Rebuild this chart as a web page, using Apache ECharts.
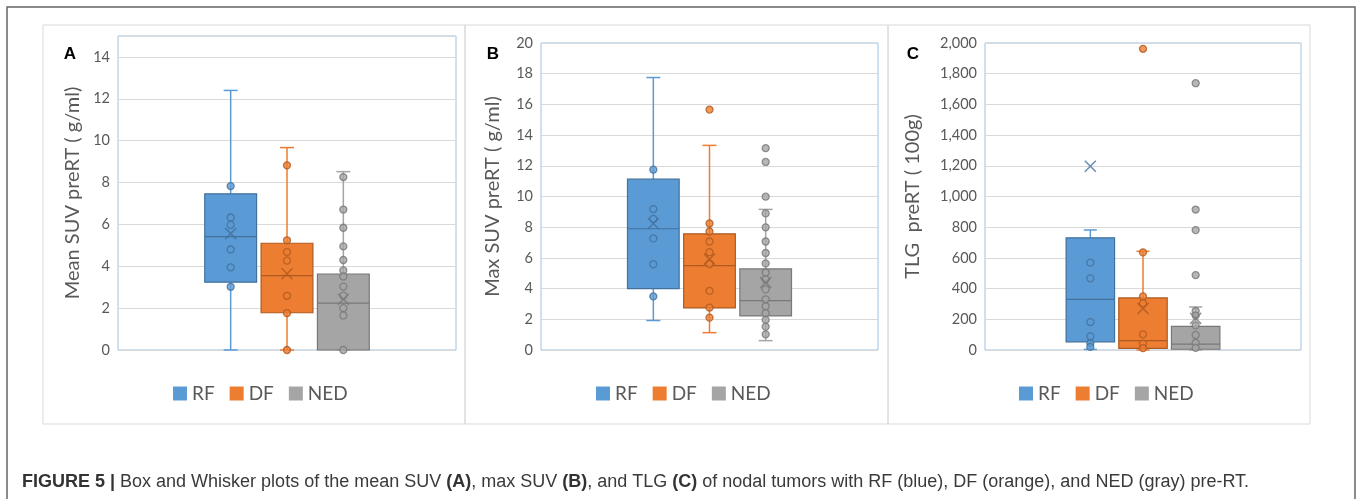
<!DOCTYPE html>
<html>
<head>
<meta charset="utf-8">
<script src="https://cdn.jsdelivr.net/npm/echarts@6/dist/echarts.min.js"></script>
<style>
    html, body {margin: 0; padding: 0; background: #fff;}
    #chart {width: 1358px; height: 499px;}
</style>
</head>
<body>
<div id="chart"></div>
<script>
// groups, in the order they stand on each plot
var groups = ['RF', 'DF', 'NED'];

// (A) mean SUV: [min, Q1, median, Q3, max] per group
var meanBox = [[0, 3.24, 5.42, 7.46, 12.4], [0, 1.78, 3.55, 5.1, 9.67], [0, 0, 2.24, 3.63, 8.52]];
var meanAvg = [5.56, 3.64, 2.42];
var meanPoints = [
    [7.83, 6.33, 5.98, 4.8, 3.95, 3.02],
    [8.82, 5.24, 4.68, 4.27, 2.59, 1.76, 0],
    [8.26, 6.71, 5.84, 4.95, 4.3, 3.8, 3.51, 3.03, 2.6, 2.0, 1.65, 0]
];
var meanOutliers = [[], [], []];

// (B) max SUV
var maxBox = [[1.92, 4.0, 7.9, 11.13, 17.75], [1.13, 2.74, 5.5, 7.57, 13.33], [0.61, 2.22, 3.22, 5.28, 9.16]];
var maxAvg = [8.24, 5.92, 4.39];
var maxPoints = [
    [11.75, 9.18, 8.54, 7.27, 5.59, 3.49],
    [8.24, 7.72, 7.07, 6.37, 5.6, 3.85, 2.76, 2.11],
    [8.9, 7.99, 7.07, 6.32, 5.64, 5.05, 4.6, 3.95, 3.3, 2.85, 2.4, 1.96, 1.52, 1.02]
];
var maxOutliers = [[], [15.66], [13.15, 12.25, 9.99]];

// (C) TLG
var tlgBox = [[4, 53, 330, 731, 782], [0, 11, 61, 339, 643], [0, 5, 38, 154, 280]];
var tlgAvg = [1197, 270, 206];
var tlgPoints = [
    [569, 467, 182, 89, 44, 20],
    [636, 349, 304, 102, 42, 12],
    [254, 224, 160, 98, 46, 14]
];
var tlgOutliers = [[], [1962], [1738, 915, 781, 488]];

// y axis ranges
var meanAxis = {max: 15, step: 2};
var maxAxis = {max: 20, step: 2};
var tlgAxis = {max: 2000, step: 200};

var fillColors = ['#5B9BD5', '#ED7D31', '#A5A5A5'];
var darkColors = ['#41719C', '#AE5A21', '#787878'];
var fontName = 'Lato, "Open Sans", sans-serif';

var panels = [
    {letter: 'A', title: 'Mean SUV preRT ( g/ml)', box: meanBox, avg: meanAvg, pts: meanPoints, out: meanOutliers, axis: meanAxis,
        grid: {left: 118, right: 902, top: 36, bottom: 149}, nameGap: 35, legendLeft: 168, frame: [43, 465], letterX: 70},
    {letter: 'B', title: 'Max SUV preRT ( g/ml)', box: maxBox, avg: maxAvg, pts: maxPoints, out: maxOutliers, axis: maxAxis,
        grid: {left: 541, right: 480, top: 43, bottom: 149}, nameGap: 38, legendLeft: 591, frame: [465, 888], letterX: 493},
    {letter: 'C', title: 'TLG  preRT ( 100g)', box: tlgBox, avg: tlgAvg, pts: tlgPoints, out: tlgOutliers, axis: tlgAxis,
        grid: {left: 985, right: 57, top: 43, bottom: 149}, nameGap: 62, legendLeft: 1014, frame: [888, 1310], letterX: 913}
];

/**
 * 画箱体和须线
 */
function renderBox(params, api) {
    var g = api.value(0);
    var lo = api.coord([g, api.value(1)]);
    var q1 = api.coord([g, api.value(2)]);
    var med = api.coord([g, api.value(3)]);
    var q3 = api.coord([g, api.value(4)]);
    var hi = api.coord([g, api.value(5)]);
    var w = api.size([1, 0])[0] * 0.92;
    var cap = w * 0.27;
    var x = lo[0];
    var fill = fillColors[g];
    var dark = darkColors[g];
    var whisker = {stroke: fill, lineWidth: 1.5};
    return {
        type: 'group',
        children: [
            {type: 'line', shape: {x1: x, y1: lo[1], x2: x, y2: q1[1]}, style: whisker},
            {type: 'line', shape: {x1: x, y1: q3[1], x2: x, y2: hi[1]}, style: whisker},
            {type: 'line', shape: {x1: x - cap / 2, y1: lo[1], x2: x + cap / 2, y2: lo[1]}, style: whisker},
            {type: 'line', shape: {x1: x - cap / 2, y1: hi[1], x2: x + cap / 2, y2: hi[1]}, style: whisker},
            {type: 'rect', shape: {x: x - w / 2, y: q3[1], width: w, height: q1[1] - q3[1]},
                style: {fill: fill, stroke: dark, lineWidth: 1.2}},
            {type: 'line', shape: {x1: x - w / 2, y1: med[1], x2: x + w / 2, y2: med[1]},
                style: {stroke: dark, lineWidth: 1.2}}
        ]
    };
}

var grids = [], xAxes = [], yAxes = [], legends = [], series = [];
var graphics = [
    {type: 'rect', shape: {x: 7, y: 7, width: 1348, height: 520}, style: {fill: 'none', stroke: '#666', lineWidth: 1.5}, silent: true}
];

panels.forEach(function (p, pi) {
    grids.push({left: p.grid.left, right: p.grid.right, top: p.grid.top, bottom: p.grid.bottom,
        show: true, borderColor: '#9DC3E6', borderWidth: 1, backgroundColor: '#fff'});
    xAxes.push({type: 'value', gridIndex: pi, min: -2, max: 4, show: false});
    yAxes.push({
        type: 'value', gridIndex: pi, min: 0, max: p.axis.max, interval: p.axis.step,
        name: p.title, nameLocation: 'middle', nameGap: p.nameGap,
        nameTextStyle: {color: '#595959', fontSize: 20, fontFamily: fontName},
        axisLine: {show: false}, axisTick: {show: false},
        axisLabel: {color: '#595959', fontSize: 14.5, fontFamily: fontName, margin: 8,
            showMaxLabel: p.axis.max % p.axis.step === 0,
            formatter: function (v) { return v.toLocaleString('en-US'); }},
        splitLine: {lineStyle: {color: '#D9D9D9', width: 1}}
    });
    legends.push({
        left: p.legendLeft, top: 379, itemWidth: 14, itemHeight: 14, itemGap: 15, selectedMode: false,
        textStyle: {color: '#595959', fontSize: 19, fontFamily: fontName},
        data: groups.map(function (name, g) {
            return {name: name, icon: 'rect', itemStyle: {color: fillColors[g], borderWidth: 0}};
        })
    });

    groups.forEach(function (name, g) {
        series.push({
            type: 'custom', name: name, xAxisIndex: pi, yAxisIndex: pi, z: 2,
            itemStyle: {color: fillColors[g]},
            renderItem: renderBox,
            encode: {x: 0, y: [1, 2, 3, 4, 5]},
            data: [[g].concat(p.box[g])]
        });
        series.push({
            type: 'scatter', name: name, xAxisIndex: pi, yAxisIndex: pi, z: 3,
            symbol: 'circle', symbolSize: 7,
            itemStyle: {color: fillColors[g], borderColor: darkColors[g], borderWidth: 1.3},
            data: p.pts[g].concat(p.out[g]).map(function (v) { return [g, v]; })
        });
        series.push({
            type: 'scatter', name: name, xAxisIndex: pi, yAxisIndex: pi, z: 4,
            symbol: 'path://M0,0L10,10M10,0L0,10', symbolSize: 11,
            itemStyle: {color: 'rgba(0,0,0,0)', borderColor: darkColors[g], borderWidth: 1.5},
            data: [[g, p.avg[g]]]
        });
    });

    graphics.push({type: 'rect', shape: {x: p.frame[0], y: 25, width: p.frame[1] - p.frame[0], height: 399},
        style: {fill: 'none', stroke: '#D9D9D9', lineWidth: 1}, silent: true, z: -1});
    graphics.push({type: 'text', x: p.letterX, y: 54,
        style: {text: p.letter, font: 'bold 17px "Liberation Sans", Arial, sans-serif', fill: '#000',
            textAlign: 'center', textVerticalAlign: 'middle'}});
});

graphics.push({
    type: 'text', x: 22, y: 482,
    style: {
        text: '{b|FIGURE 5 |} Box and Whisker plots of the mean SUV {b|(A)}, max SUV {b|(B)}, and TLG {b|(C)} of nodal tumors with RF (blue), DF (orange), and NED (gray) pre-RT.',
        font: '18px "Liberation Sans", Arial, sans-serif', fill: '#3a3a3a', textVerticalAlign: 'middle',
        rich: {b: {fontWeight: 'bold', fontSize: 18, fontFamily: '"Liberation Sans", Arial, sans-serif', fill: '#333'}}
    }
});

var myChart = echarts.init(document.getElementById('chart'), null, {renderer: 'canvas'});
myChart.setOption({
    animation: false,
    grid: grids,
    xAxis: xAxes,
    yAxis: yAxes,
    legend: legends,
    series: series,
    graphic: graphics
});
</script>
</body>
</html>
